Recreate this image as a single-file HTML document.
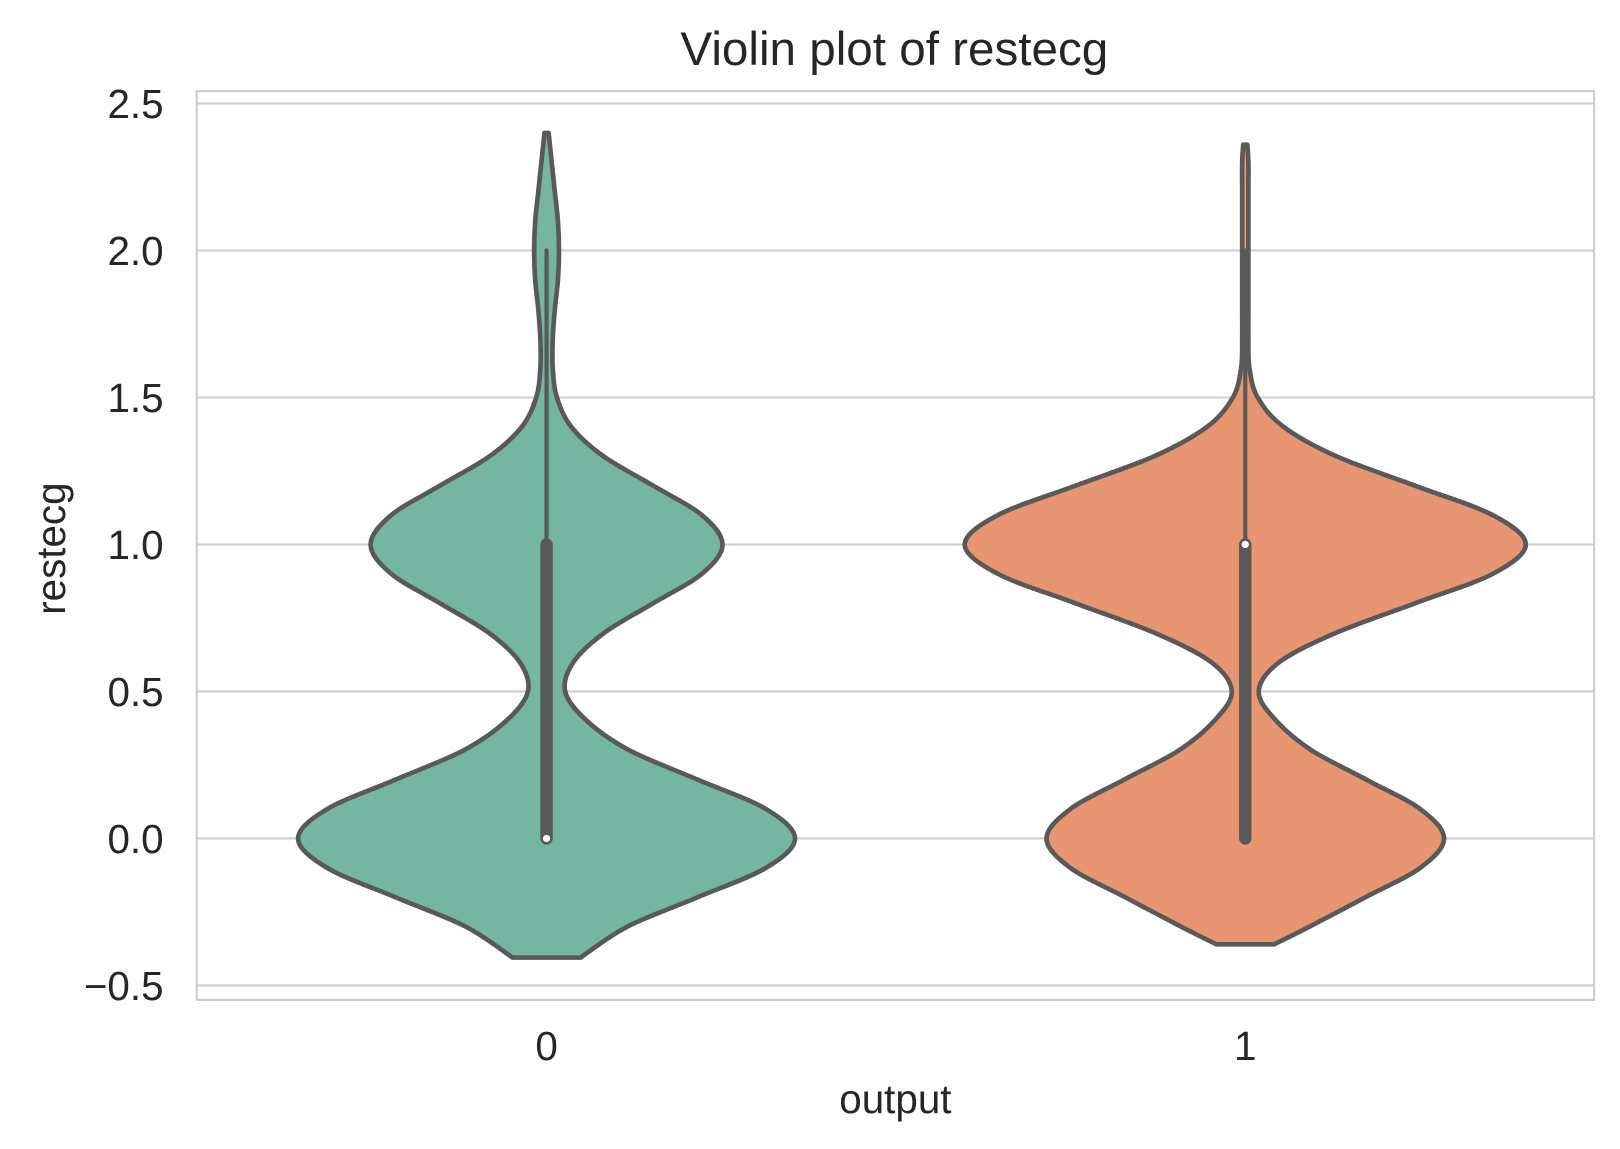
<!DOCTYPE html>
<html><head><meta charset="utf-8"><style>
body{margin:0;background:#fff}
svg{display:block;font-family:"Liberation Sans",sans-serif}
</style></head><body>
<svg id="chart" width="1620" height="1149" viewBox="0 0 1565 1110">
<rect x="0" y="0" width="1565" height="1110" fill="#fff"/>
<g id="grid"></g>
<g id="violins"></g>
<rect x="190" y="88" width="1350" height="878" fill="none" stroke="#cccccc" stroke-width="2"/>
<g id="axes"></g>
<text x="864" y="63" font-size="46" fill="#262626" text-anchor="middle">Violin plot of restecg</text>
<text x="865" y="1075" font-size="39" fill="#262626" text-anchor="middle">output</text>
<text transform="translate(63,530) rotate(-90)" font-size="39" fill="#262626" text-anchor="middle">restecg</text>
</svg>
<script>
const categories = ["0", "1"];
const yTicks = [-0.5, 0.0, 0.5, 1.0, 1.5, 2.0, 2.5];
const yTickLabels = ["\u22120.5", "0.0", "0.5", "1.0", "1.5", "2.0", "2.5"];
const levels0 = [-0.405,-0.3,-0.2,-0.1,0,0.1,0.2,0.3,0.4,0.5,0.6,0.7,0.8,0.9,1.0,1.1,1.2,1.3,1.4,1.5,1.6,1.7,1.8,1.9,2.0,2.1,2.2,2.3,2.4];
const widths0 = [33,78,146,212,240,212,146,80,39,18,26,56,103,150,170,150,103,55,24,10,6,6,8,11,12,11,8,5,2];
const levels1 = [-0.36,-0.3,-0.2,-0.1,0,0.1,0.2,0.3,0.4,0.5,0.6,0.7,0.8,0.9,1.0,1.1,1.2,1.3,1.4,1.5,1.6,1.7,1.8,1.9,2.0,2.1,2.2,2.3,2.36];
const widths1 = [28,62,116,169,192,169,117,64,30,13,33,88,164,239,271,239,164,88,37,12,4,3,3,3,3,3,3,3,2];
const q1s = [0, 0];
const q3s = [1, 1];
const medians = [0, 1];
const whiskLo = [0, 0];
const whiskHi = [2, 2];
const colors = ["#74b6a1", "#e89672"];

const NS = "http://www.w3.org/2000/svg";
const yPx = v => 810 - 284 * v;
const xPx = i => 528 + 675 * i;
function mk(tag, attrs, parent){const e=document.createElementNS(NS,tag);for(const k in attrs)e.setAttribute(k,attrs[k]);parent.appendChild(e);return e;}
function smooth(pts){
  let d='';
  for(let i=0;i<pts.length-1;i++){
    const p0=pts[Math.max(i-1,0)],p1=pts[i],p2=pts[i+1],p3=pts[Math.min(i+2,pts.length-1)];
    const c1=[p1[0]+(p2[0]-p0[0])/6,p1[1]+(p2[1]-p0[1])/6];
    const c2=[p2[0]-(p3[0]-p1[0])/6,p2[1]-(p3[1]-p1[1])/6];
    d+=' C'+c1[0]+','+c1[1]+' '+c2[0]+','+c2[1]+' '+p2[0]+','+p2[1];
  }
  return d;
}
const grid=document.getElementById('grid'), axes=document.getElementById('axes'), vg=document.getElementById('violins');
yTicks.forEach((t,i)=>{
  const l=mk('line',{x1:190,x2:1540,y1:yPx(t),y2:yPx(t),stroke:'#cccccc','stroke-width':2},grid);
  
  
  const tx=mk('text',{x:158,y:yPx(t)+14,'font-size':39,fill:'#262626','text-anchor':'end'},axes);
  tx.textContent=yTickLabels[i];
  
  
});
categories.forEach((c,i)=>{
  const tx=mk('text',{x:xPx(i),y:1024,'font-size':39,fill:'#262626','text-anchor':'middle'},axes);
  tx.textContent=c;
  
  
});
const profiles=[[levels0,widths0],[levels1,widths1]];
profiles.forEach(([lv,w],i)=>{
  const cx=xPx(i);
  const right=lv.map((v,k)=>[cx+w[k],yPx(v)]);
  const left=lv.map((v,k)=>[cx-w[k],yPx(v)]).reverse();
  let d='M'+right[0][0]+','+right[0][1]+smooth(right)+' L'+left[0][0]+','+left[0][1]+smooth(left)+' Z';
  const p=mk('path',{d:d,fill:colors[i],stroke:'#595959','stroke-width':4.5,'stroke-linejoin':'round'},vg);
  
  
  const wl=mk('line',{x1:cx,x2:cx,y1:yPx(whiskLo[i]),y2:yPx(whiskHi[i]),stroke:'#595959','stroke-width':4,'stroke-linecap':'round'},vg);
  
  
  const bx=mk('line',{x1:cx,x2:cx,y1:yPx(q1s[i]),y2:yPx(q3s[i]),stroke:'#595959','stroke-width':12,'stroke-linecap':'round'},vg);
  
  
  const md=mk('circle',{cx:cx,cy:yPx(medians[i]),r:3.5,fill:'#fff'},vg);
  
  
});
</script>
</body></html>
